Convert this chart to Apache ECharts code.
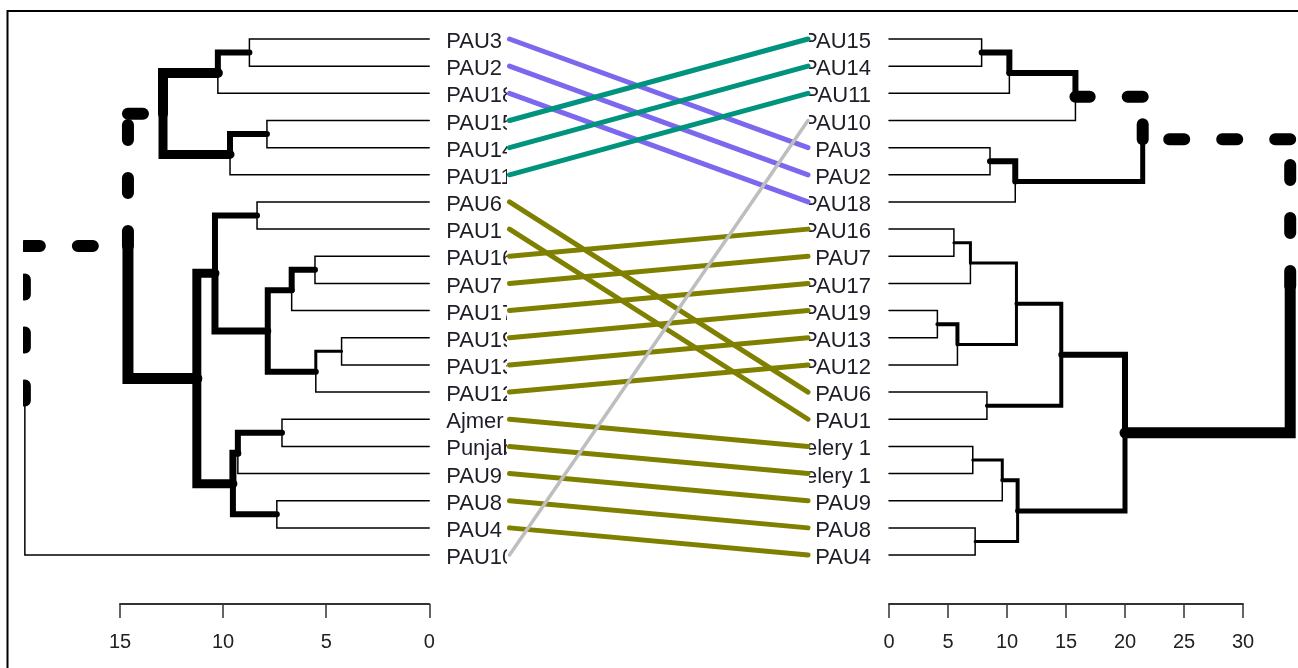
<!DOCTYPE html>
<html><head><meta charset="utf-8">
<script src="https://cdn.jsdelivr.net/npm/echarts@6/dist/echarts.min.js"></script>
<style>html,body{margin:0;padding:0;background:#fff}#c{width:1298px;height:668px}</style>
</head><body><div id="c"></div>
<script>
// ---------- DATA ----------
const leftLabels = ['PAU3','PAU2','PAU18','PAU15','PAU14','PAU11','PAU6','PAU1','PAU16','PAU7','PAU17','PAU19','PAU13','PAU12','Ajmer Celery 1','Punjab Celery 1','PAU9','PAU8','PAU4','PAU10'];
const rightLabels = ['PAU15','PAU14','PAU11','PAU10','PAU3','PAU2','PAU18','PAU16','PAU7','PAU17','PAU19','PAU13','PAU12','PAU6','PAU1','Ajmer Celery 1','Punjab Celery 1','PAU9','PAU8','PAU4'];
// merges: [nodeId, childA, childB, height]
const leftMerges = [
  ['L1','PAU3','PAU2',8.72],
  ['L2','L1','PAU18',10.25],
  ['L3','PAU15','PAU14',7.87],
  ['L4','L3','PAU11',9.66],
  ['L5','L2','L4',12.91],
  ['L6','PAU6','PAU1',8.35],
  ['L7','PAU16','PAU7',5.54],
  ['L8','L7','PAU17',6.67],
  ['L9','PAU19','PAU13',4.25],
  ['L10','L9','PAU12',5.5],
  ['L11','L8','L10',7.83],
  ['L12','L6','L11',10.39],
  ['L13','Ajmer Celery 1','Punjab Celery 1',7.14],
  ['L14','L13','PAU9',9.28],
  ['L15','PAU8','PAU4',7.39],
  ['L16','L14','L15',9.52],
  ['L17','L12','L16',11.27],
  ['L18','L5','L17',14.61],
  ['L19','L18','PAU10',19.61]
];
const rightMerges = [
  ['R1','PAU15','PAU14',7.85],
  ['R2','R1','PAU11',10.2],
  ['R3','R2','PAU10',15.8],
  ['R4','PAU3','PAU2',8.56],
  ['R5','R4','PAU18',10.7],
  ['R6','R3','R5',21.5],
  ['R7','PAU16','PAU7',5.5],
  ['R8','R7','PAU17',6.9],
  ['R9','PAU19','PAU13',4.1],
  ['R10','R9','PAU12',5.8],
  ['R11','R8','R10',10.8],
  ['R12','PAU6','PAU1',8.3],
  ['R13','R11','R12',14.6],
  ['R14','Ajmer Celery 1','Punjab Celery 1',7.1],
  ['R15','R14','PAU9',9.6],
  ['R16','PAU8','PAU4',7.3],
  ['R17','R15','R16',10.9],
  ['R18','R13','R17',20.0],
  ['R19','R6','R18',34.0]
];
// group of each connecting line, in leftLabels order
const linkGroup = [0,0,0,1,1,1,2,2,2,2,2,2,2,2,2,2,2,2,2,3];
const leftTicks = [0,5,10,15];
const rightTicks = [0,5,10,15,20,25,30];

// ---------- STYLE ----------
const groupColors = ['#7B68EE','#00937D','#808000','#BEBEBE'];
const groupWidths = [5,5,5,3.5];
const thin = 1.5;
// width of the edge leading from a node up to its parent; 'd' = dashed
const leftEdgeStyle = {L1:6,L2:10,L3:6,L4:9,L5:'d',L6:6,L7:6,L8:6,L9:3,L10:6,L11:7,L12:9,L13:6,L14:7,L15:6,L16:9,L17:11,L18:'d'};
const rightEdgeStyle = {R1:6,R2:6,R3:'d',R4:6,R5:5,R6:'d',R7:3,R8:3,R9:4,R10:3,R11:4,R12:4,R13:6,R14:3,R15:4,R16:3,R17:5,R18:11};
const dashW = 12, dashPat = [15,38];
const FONT = '"Liberation Sans", Arial, sans-serif';
const NARROW = '"Liberation Sans Narrow", "Liberation Sans", Arial, sans-serif';

// ---------- LAYOUT ----------
function buildSegs(labels, merges, styles){
  const pos = {};
  labels.forEach((l,i)=>{pos[l]={h:0,y:i};});
  const segs = [];
  merges.forEach(([id,a,b,h])=>{
    pos[id] = {h:h, y:(pos[a].y+pos[b].y)/2};
    [a,b].forEach(c=>{
      const st = styles[c];
      const p = pos[id], q = pos[c];
      if (st === 'd') {
        segs.push({pts:[[p.h,p.y],[p.h,q.y]], w:dashW, dash:true});
        segs.push({pts:[[p.h,q.y],[q.h,q.y]], w:dashW, dash:true});
      } else {
        segs.push({pts:[[p.h,p.y],[p.h,q.y],[q.h,q.y]], w: st || thin, dash:false});
      }
    });
  });
  segs.sort((s,t)=>s.w-t.w);
  return segs;
}
const leftSegs = buildSegs(leftLabels, leftMerges, leftEdgeStyle);
const rightSegs = buildSegs(rightLabels, rightMerges, rightEdgeStyle);

function treeRender(segs){
  return function(params, api){
    const s = segs[params.dataIndex];
    const pts = s.pts.map(p=>api.coord(p));
    return {
      type:'polyline',
      shape:{points:pts},
      style:{stroke:'#000', fill:'none', lineWidth:s.w, lineDash: s.dash? dashPat : null,
             lineCap:'round', lineJoin: s.dash ? 'round' : 'miter'}
    };
  };
}
function labelRender(labels, side){
  return function(params, api){
    const p = api.coord([0, params.dataIndex]);
    return {
      type:'text',
      x: p[0] + (side==='left'? 17 : -18), y: p[1] + 3,
      style:{text: labels[params.dataIndex], fill:'#1e1e28', fontSize:22, fontFamily:FONT,
             align: side==='left'?'left':'right', verticalAlign:'middle'}
    };
  };
}

const yBase = {type:'value', min:-1, max:20, inverse:true, show:false};
const rowTop = 11.84, rowH = 570.36;
const kL = 20.62, kR = 11.8;

function scaleAxis(grid, max, inverse){
  return {gridIndex:grid, type:'value', min:0, max:max, interval:5, inverse:inverse, position:'bottom',
    axisLine:{show:true, onZero:false, lineStyle:{color:'#333', width:2}},
    axisTick:{show:true, inside:false, length:14, lineStyle:{color:'#333', width:1.5}},
    axisLabel:{show:true, margin:28, fontSize:20, fontFamily:NARROW, color:'#222', showMinLabel:true, showMaxLabel:true},
    splitLine:{show:false}};
}

const chart = echarts.init(document.getElementById('c'), null, {renderer:'canvas'});
chart.setOption({
  animation:false,
  backgroundColor:'#fff',
  grid:[
    {left:23, top:rowTop, width:20.7*kL, height:rowH, containLabel:false, outerBoundsMode:'none'},
    {left:889-kR, top:rowTop, width:35.66*kR, height:rowH, containLabel:false, outerBoundsMode:'none'},
    {left:509.5, top:rowTop, width:298.5, height:rowH, containLabel:false, outerBoundsMode:'none'},
    {left:120, top:603, width:15*kL, height:1, containLabel:false, outerBoundsMode:'none'},
    {left:889, top:603, width:30*kR, height:1, containLabel:false, outerBoundsMode:'none'}
  ],
  xAxis:[
    {gridIndex:0, type:'value', min:-1, max:19.7, inverse:true, show:false},
    {gridIndex:1, type:'value', min:-1, max:34.66, show:false},
    {gridIndex:2, type:'value', min:0, max:1, show:false},
    scaleAxis(3, leftTicks[leftTicks.length-1], true),
    scaleAxis(4, rightTicks[rightTicks.length-1], false)
  ],
  yAxis:[
    Object.assign({gridIndex:0}, yBase),
    Object.assign({gridIndex:1}, yBase),
    Object.assign({gridIndex:2}, yBase),
    {gridIndex:3, type:'value', min:0, max:1, show:false},
    {gridIndex:4, type:'value', min:0, max:1, show:false}
  ],
  graphic:[
    {type:'rect', silent:true, z:100, shape:{x:7.5, y:11, width:1400, height:800},
     style:{fill:'transparent', stroke:'#000', lineWidth:2}}
  ],
  series:[
    {type:'custom', xAxisIndex:0, yAxisIndex:0, clip:true, z:2,
     data:leftSegs.map(s=>s.pts[0]), renderItem:treeRender(leftSegs)},
    {type:'custom', xAxisIndex:1, yAxisIndex:1, clip:true, z:2,
     data:rightSegs.map(s=>s.pts[0]), renderItem:treeRender(rightSegs)},
    {type:'custom', xAxisIndex:0, yAxisIndex:0, clip:false, z:2,
     data:leftLabels.map((l,i)=>[0,i]), renderItem:labelRender(leftLabels,'left')},
    {type:'custom', xAxisIndex:1, yAxisIndex:1, clip:false, z:2,
     data:rightLabels.map((l,i)=>[0,i]), renderItem:labelRender(rightLabels,'right')},
    {type:'custom', xAxisIndex:2, yAxisIndex:2, clip:false, z:3,
     data:[[0,-1]],
     renderItem:function(params, api){
       const a = api.coord([0,-0.6]), b = api.coord([1,19.6]);
       return {type:'rect', shape:{x:a[0]-2.5, y:a[1], width:b[0]-a[0]+3.5, height:b[1]-a[1]},
               style:{fill:'#fff', stroke:null}};
     }},
    {type:'custom', xAxisIndex:2, yAxisIndex:2, clip:false, z:4,
     data:leftLabels.map((l,i)=>[0,i,1,rightLabels.indexOf(l)]),
     renderItem:function(params, api){
       const g = linkGroup[params.dataIndex];
       const a = api.coord([api.value(0), api.value(1)]), b = api.coord([api.value(2), api.value(3)]);
       return {type:'line', shape:{x1:a[0],y1:a[1],x2:b[0],y2:b[1]},
               style:{stroke:groupColors[g], lineWidth:groupWidths[g], lineCap:'round'}};
     }}
  ]
});
</script></body></html>
